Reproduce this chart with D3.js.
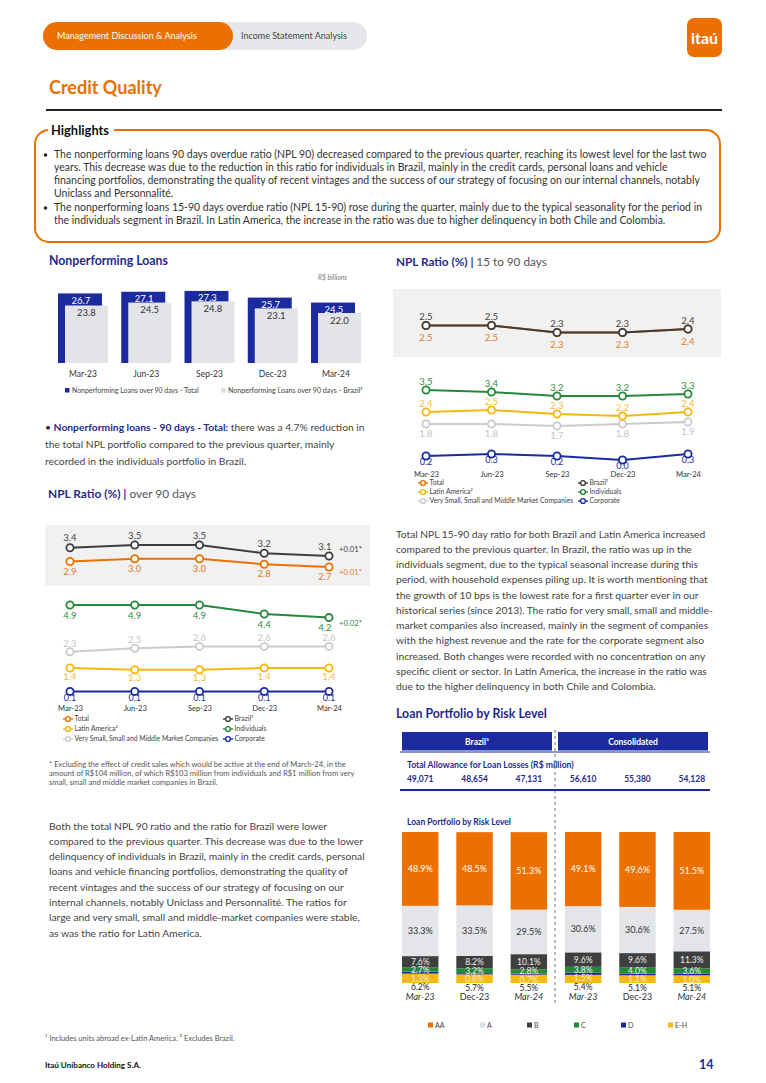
<!DOCTYPE html>
<html><head><meta charset="utf-8">
<script src="https://cdn.jsdelivr.net/npm/d3@7"></script>
<style>
html,body{margin:0;padding:0;background:#fff;}
svg{display:block;}
text{font-family:Lato,"Open Sans",sans-serif;}
</style></head><body>
<svg id="page" width="766" height="1083"></svg>
<script>
// ---------------- DATA ----------------
const quarters = ["Mar-23","Jun-23","Sep-23","Dec-23","Mar-24"];
const nplTotal  = [26.7, 27.1, 27.3, 25.7, 24.5];
const nplBrazil = [23.8, 24.5, 24.8, 23.1, 22.0];
const nplLegend = ["Nonperforming Loans over 90 days - Total","Nonperforming Loans over 90 days - Brazil¹"];

const npl90Total       = [2.9, 3.0, 3.0, 2.8, 2.7];
const npl90Brazil      = [3.4, 3.5, 3.5, 3.2, 3.1];
const npl90Individuals = [4.9, 4.9, 4.9, 4.4, 4.2];
const npl90Vsmm        = [2.3, 2.5, 2.6, 2.6, 2.6];
const npl90Latam       = [1.4, 1.3, 1.3, 1.4, 1.4];
const npl90Corporate   = [0.1, 0.1, 0.1, 0.1, 0.1];
const npl90Notes = {brazil:"+0.01*", total:"+0.01*", individuals:"+0.02*"};

const npl15Total       = [2.5, 2.5, 2.3, 2.3, 2.4];
const npl15Brazil      = [2.5, 2.5, 2.3, 2.3, 2.4];
const npl15Individuals = [3.5, 3.4, 3.2, 3.2, 3.3];
const npl15Latam       = [2.4, 2.5, 2.3, 2.2, 2.4];
const npl15Vsmm        = [1.8, 1.8, 1.7, 1.8, 1.9];
const npl15Corporate   = [0.2, 0.3, 0.2, 0.0, 0.3];

const lineLegendNames = ["Total","Brazil¹","Latin America²","Individuals","Very Small, Small and Middle Market Companies","Corporate"];

const riskGroups  = ["Brazil¹","Consolidated"];
const riskPeriods = ["Mar-23","Dec-23","Mar-24","Mar-23","Dec-23","Mar-24"];
const allowance   = [49071, 48654, 47131, 56610, 55380, 54128];
const riskAA = [48.9, 48.5, 51.3, 49.1, 49.6, 51.5];
const riskA  = [33.3, 33.5, 29.5, 30.6, 30.6, 27.5];
const riskB  = [7.6, 8.2, 10.1, 9.6, 9.6, 11.3];
const riskC  = [2.7, 3.2, 2.8, 3.8, 4.0, 3.6];
const riskD  = [1.3, 0.8, 0.7, 1.5, 1.1, 1.0];
const riskEH = [6.2, 5.7, 5.5, 5.4, 5.1, 5.1];
const riskLegend = ["AA","A","B","C","D","E-H"];

// ---------------- TEXT ----------------
const highlight1 = [
 "The nonperforming loans 90 days overdue ratio (NPL 90) decreased compared to the previous quarter, reaching its lowest level for the last two",
 "years. This decrease was due to the reduction in this ratio for individuals in Brazil, mainly in the credit cards, personal loans and vehicle",
 "financing portfolios, demonstrating the quality of recent vintages and the success of our strategy of focusing on our internal channels, notably",
 "Uniclass and Personnalité."];
const highlight2 = [
 "The nonperforming loans 15-90 days overdue ratio (NPL 15-90) rose during the quarter, mainly due to the typical seasonality for the period in",
 "the individuals segment in Brazil. In Latin America, the increase in the ratio was due to higher delinquency in both Chile and Colombia."];
const noteLines = ["the total NPL portfolio compared to the previous quarter, mainly","recorded in the individuals portfolio in Brazil."];
const rightPara = [
 "Total NPL 15-90 day ratio for both Brazil and Latin America increased",
 "compared to the previous quarter. In Brazil, the ratio was up in the",
 "individuals segment, due to the typical seasonal increase during this",
 "period, with household expenses piling up. It is worth mentioning that",
 "the growth of 10 bps is the lowest rate for a first quarter ever in our",
 "historical series (since 2013). The ratio for very small, small and middle-",
 "market companies also increased, mainly in the segment of companies",
 "with the highest revenue and the rate for the corporate segment also",
 "increased. Both changes were recorded with no concentration on any",
 "specific client or sector. In Latin America, the increase in the ratio was",
 "due to the higher delinquency in both Chile and Colombia."];
const leftPara = [
 "Both the total NPL 90 ratio and the ratio for Brazil were lower",
 "compared to the previous quarter. This decrease was due to the lower",
 "delinquency of individuals in Brazil, mainly in the credit cards, personal",
 "loans and vehicle financing portfolios, demonstrating the quality of",
 "recent vintages and the success of our strategy of focusing on our",
 "internal channels, notably Uniclass and Personnalité. The ratios for",
 "large and very small, small and middle-market companies were stable,",
 "as was the ratio for Latin America."];
const footStar = [
 "* Excluding the effect of credit sales which would be active at the end of March-24, in the",
 "amount of R$104 million, of which R$103 million from individuals and R$1 million from very",
 "small, small and middle market companies in Brazil."];

// ---------------- STYLE ----------------
const ORANGE="#ec7000", BLUE="#1b2a9e", NAVY="#1f2b8c", DARK="#3d3d3d", GREEN="#24893a",
      YELLOW="#f5b70f", LIGHT="#cbcbcb", TXT="#444";

const svg = d3.select('#page');

function fit(t, w){ const c=t.node().getComputedTextLength(); if(c>0) t.attr('font-size', parseFloat(t.attr('font-size'))*w/c); return t; }
function txt(p,x,y,s,o={}){
  const t=p.append('text').attr('x',x).attr('y',y).text(s)
   .attr('font-size',o.fs||9).attr('fill',o.fill||TXT).attr('font-weight',o.fw||400)
   .attr('text-anchor',o.anchor||'start');
  if(o.style) t.attr('font-style',o.style);
  if(o.w) fit(t,o.w);
  return t;
}
function block(lines,x,y0,lh,o){
  const ts=lines.map((l,i)=>txt(svg,x,y0+i*lh,l,{fs:o.fs,fill:o.fill||TXT}));
  if(o.w){ const c=ts[o.ref].node().getComputedTextLength(); const fs=o.fs*o.w/c; ts.forEach(t=>t.attr('font-size',fs)); return fs; }
  return o.fs;
}

// ---------------- HEADER ----------------
svg.append('rect').attr('x',195).attr('y',22).attr('width',172).attr('height',28).attr('rx',14).attr('fill','#e6e7eb');
svg.append('rect').attr('x',43).attr('y',22).attr('width',190).attr('height',28).attr('rx',14).attr('fill',ORANGE);
txt(svg,57,39,"Management Discussion & Analysis",{fs:8.5,fill:'#fff',w:140});
txt(svg,241,39,"Income Statement Analysis",{fs:8.5,fill:'#444',w:106});
svg.append('rect').attr('x',687).attr('y',18).attr('width',35).attr('height',39).attr('rx',7).attr('fill',ORANGE);
txt(svg,704.5,44,"itaú",{fs:14,fill:'#fff',fw:700,anchor:'middle',w:27});
txt(svg,49,94,"Credit Quality",{fs:16,fill:ORANGE,fw:700,w:113});
svg.append('line').attr('x1',46).attr('x2',722).attr('y1',110).attr('y2',110).attr('stroke','#222').attr('stroke-width',2);

// ---------------- HIGHLIGHTS ----------------
svg.append('rect').attr('x',35).attr('y',130).attr('width',685).attr('height',112).attr('rx',14)
  .attr('fill','none').attr('stroke',ORANGE).attr('stroke-width',2);
svg.append('rect').attr('x',48).attr('y',124).attr('width',66).attr('height',12).attr('fill','#fff');
txt(svg,51,135,"Highlights",{fs:11,fill:'#111',fw:700,w:58});
const hfs = block(highlight1,54,158,13,{fs:9,fill:'#333',ref:0,w:653});
highlight2.forEach((l,i)=>txt(svg,54,211+i*13,l,{fs:hfs,fill:'#333'}));
[155,208].forEach(y=>svg.append('circle').attr('cx',45.5).attr('cy',y).attr('r',1.8).attr('fill','#222'));

// ---------------- NONPERFORMING LOANS BARS ----------------
txt(svg,49,265,"Nonperforming Loans",{fs:11,fill:NAVY,fw:700,w:119});
txt(svg,347,280,"R$ billions",{fs:7,fill:'#777',style:'italic',anchor:'end',w:29});
const xN = d3.scaleBand().domain(quarters).range([58,361]).paddingInner(0.21).paddingOuter(0);
const yN = d3.scaleLinear().domain([10,28]).range([363,288]);
const bw = xN.bandwidth();
const gN = svg.append('g');
gN.selectAll('rect.t').data(nplTotal).join('rect').attr('class','t')
  .attr('x',(d,i)=>xN(quarters[i])).attr('width',bw*0.88)
  .attr('y',d=>yN(d)).attr('height',d=>yN(10)-yN(d)).attr('fill',BLUE);
gN.selectAll('rect.b').data(nplBrazil).join('rect').attr('class','b')
  .attr('x',(d,i)=>xN(quarters[i])+bw*0.14).attr('width',bw*0.86)
  .attr('y',d=>yN(d)).attr('height',d=>yN(10)-yN(d)).attr('fill','#e3e4e8');
gN.selectAll('text.t').data(nplTotal).join('text').attr('class','t')
  .attr('x',(d,i)=>xN(quarters[i])+bw*0.46).attr('y',d=>yN(d)+10.5)
  .attr('text-anchor','middle').attr('font-size',9.5).attr('fill','#fff').text(d=>d.toFixed(1));
gN.selectAll('text.b').data(nplBrazil).join('text').attr('class','b')
  .attr('x',(d,i)=>xN(quarters[i])+bw*0.57).attr('y',d=>yN(d)+10.5)
  .attr('text-anchor','middle').attr('font-size',9.5).attr('fill','#333').text(d=>d.toFixed(1));
const axN = gN.append('g').attr('transform','translate(0,369)').call(d3.axisBottom(xN).tickSize(0).tickPadding(2));
axN.select('.domain').remove();
axN.selectAll('text').attr('font-size',8.5).attr('fill','#333').attr('font-family','Lato,"Open Sans",sans-serif');
svg.append('rect').attr('x',65).attr('y',388).attr('width',4.5).attr('height',4.5).attr('fill',BLUE);
txt(svg,72,392.5,nplLegend[0],{fs:6.5,fill:'#444',w:127});
svg.append('rect').attr('x',221).attr('y',388).attr('width',4.5).attr('height',4.5).attr('fill','#dcdde1');
txt(svg,228,392.5,nplLegend[1],{fs:6.5,fill:'#444',w:135});

// note
const n1 = svg.append('text').attr('x',45).attr('y',431).attr('font-size',9.5).attr('fill',TXT);
n1.append('tspan').text('• ').attr('fill','#222');
n1.append('tspan').text('Nonperforming loans - 90 days - Total:').attr('font-weight',700).attr('fill',NAVY);
n1.append('tspan').text('  there was a 4.7% reduction in');
fit(n1,320);
const nfs = parseFloat(n1.attr('font-size'));
noteLines.forEach((l,i)=>txt(svg,45,448+i*16.5,l,{fs:nfs,fill:TXT}));

// ---------------- LINE CHART HELPERS ----------------
function drawSeries(g, xs, series){
  series.forEach(s=>{
    const line=d3.line().x((d,i)=>xs(quarters[i])).y(d=>s.y(d));
    g.append('path').datum(s.values).attr('d',line).attr('fill','none').attr('stroke',s.color).attr('stroke-width',2);
    g.selectAll(null).data(s.values).join('circle')
     .attr('cx',(d,i)=>xs(quarters[i])).attr('cy',d=>s.y(d)).attr('r',3.6)
     .attr('fill','#fff').attr('stroke',s.color).attr('stroke-width',1.8);
  });
  series.forEach(s=>{
    g.selectAll(null).data(s.values).join('text')
     .attr('x',(d,i)=>xs(quarters[i])+(i===4&&s.note?-4:0)).attr('y',d=>s.y(d)+s.dy)
     .attr('text-anchor','middle').attr('font-size',s.fs||9.5).attr('fill',s.lc).text(d=>d.toFixed(1));
    if(s.note) txt(g,xs(quarters[4])+10,s.y(s.values[4])+s.noteDy,s.note,{fs:7,fill:s.lc,w:23});
  });
}
function lineLegend(g, colors, x1, x2, rows, refW){
  const ts=[];
  lineLegendNames.forEach((name,k)=>{
    const col=k%2,row=Math.floor(k/2),mx=col?x2:x1,y=rows[row];
    g.append('line').attr('x1',mx).attr('x2',mx+10).attr('y1',y).attr('y2',y).attr('stroke',colors[k]).attr('stroke-width',1.4);
    g.append('circle').attr('cx',mx+5).attr('cy',y).attr('r',2.4).attr('fill','#fff').attr('stroke',colors[k]).attr('stroke-width',1.4);
    ts.push(txt(g,mx+11.5,y+2.3,name,{fs:6.5,fill:'#444'}));
  });
  const c=ts[4].node().getComputedTextLength(); const fs=6.5*refW/c; ts.forEach(t=>t.attr('font-size',fs));
}
function xAxis(g, xs, y){
  const a=g.append('g').attr('transform',`translate(0,${y})`).call(d3.axisBottom(xs).tickSize(0).tickPadding(2));
  a.select('.domain').remove();
  a.selectAll('text').attr('font-size',7.6).attr('fill','#333').attr('font-family','Lato,"Open Sans",sans-serif');
}
const legendColors=[ORANGE,DARK,YELLOW,GREEN,LIGHT,BLUE];

// ---------------- NPL 15-90 ----------------
const t15 = svg.append('text').attr('x',396).attr('y',266).attr('font-size',11);
t15.append('tspan').text('NPL Ratio (%) | ').attr('font-weight',700).attr('fill',NAVY);
t15.append('tspan').text('15 to 90 days').attr('fill','#555');
fit(t15,151);
svg.append('rect').attr('x',393).attr('y',289).attr('width',328).attr('height',68).attr('fill','#f1f1f1');
const x15 = d3.scalePoint().domain(quarters).range([426,688]);
const y15T = d3.scaleLinear().domain([2.0,2.7]).range([343,318.5]);
const y15B = d3.scaleLinear().domain([0,3.6]).range([460,388]);
const g15 = svg.append('g');
drawSeries(g15,x15,[
  {values:npl15Total,color:ORANGE,lc:'#e27a2a',y:y15T,dy:15.5},
  {values:npl15Brazil,color:DARK,lc:'#444',y:y15T,dy:-5.5},
  {values:npl15Corporate,color:BLUE,lc:BLUE,y:y15B,dy:9,fs:9},
  {values:npl15Vsmm,color:LIGHT,lc:'#c4c4c4',y:y15B,dy:12.5},
  {values:npl15Latam,color:YELLOW,lc:'#f3bd3a',y:y15B,dy:-5.5},
  {values:npl15Individuals,color:GREEN,lc:'#2f8a3f',y:y15B,dy:-5.5}
]);
xAxis(g15,x15,470);
lineLegend(g15,legendColors,418,578,[483,492,501],144);

// ---------------- NPL 90 ----------------
const t90 = svg.append('text').attr('x',48).attr('y',498).attr('font-size',11);
t90.append('tspan').text('NPL Ratio (%) | ').attr('font-weight',700).attr('fill',NAVY);
t90.append('tspan').text('over 90 days').attr('fill','#555');
fit(t90,148);
svg.append('rect').attr('x',45).attr('y',525).attr('width',325).attr('height',61).attr('fill','#f1f1f1');
const x90 = d3.scalePoint().domain(quarters).range([70,329]);
const y90T = d3.scaleLinear().domain([2.5,3.6]).range([572.5,542.25]);
const y90B = d3.scaleLinear().domain([0,5]).range([693.2,603.2]);
const g90 = svg.append('g');
drawSeries(g90,x90,[
  {values:npl90Total,color:ORANGE,lc:'#e27a2a',y:y90T,dy:13,note:npl90Notes.total,noteDy:8},
  {values:npl90Brazil,color:DARK,lc:'#444',y:y90T,dy:-6.5,note:npl90Notes.brazil,noteDy:-4},
  {values:npl90Corporate,color:BLUE,lc:BLUE,y:y90B,dy:9.5,fs:9},
  {values:npl90Latam,color:YELLOW,lc:'#f3bd3a',y:y90B,dy:11.5},
  {values:npl90Vsmm,color:LIGHT,lc:'#c4c4c4',y:y90B,dy:-5},
  {values:npl90Individuals,color:GREEN,lc:'#2f8a3f',y:y90B,dy:13.5,note:npl90Notes.individuals,noteDy:8.5}
]);
xAxis(g90,x90,704);
lineLegend(g90,legendColors,63,223,[719,729,739],144);

// ---------------- TEXT BLOCKS ----------------
block(footStar,49,767,9,{fs:6.5,fill:'#555',ref:1,w:306});
block(leftPara,49,829.5,15.3,{fs:10,fill:TXT,ref:2,w:316});
block(rightPara,396,537.5,15.25,{fs:10,fill:TXT,ref:5,w:317});

// ---------------- LOAN PORTFOLIO BY RISK LEVEL ----------------
txt(svg,396,718,"Loan Portfolio by Risk Level",{fs:10.5,fill:NAVY,fw:700,w:151});
const xR = d3.scaleBand().domain(d3.range(6)).range([402,710]).paddingInner(0.329).paddingOuter(0);
const yR = d3.scaleLinear().domain([0,100]).range([983,832]);
const rb = xR.bandwidth();
[[402,552],[558,708]].forEach((r,i)=>{
  svg.append('rect').attr('x',r[0]).attr('y',732).attr('width',r[1]-r[0]).attr('height',18.5).attr('fill',BLUE);
  txt(svg,(r[0]+r[1])/2,744.5,riskGroups[i],{fs:8.5,fill:'#fff',fw:700,anchor:'middle'});
});
svg.append('line').attr('x1',400).attr('x2',710).attr('y1',752).attr('y2',752).attr('stroke',BLUE).attr('stroke-width',1);
svg.append('line').attr('x1',555).attr('x2',555).attr('y1',730).attr('y2',1006).attr('stroke','#9a9a9a').attr('stroke-width',1.3).attr('stroke-dasharray','3,3');
txt(svg,407,768,"Total Allowance for Loan Losses (R$ million)",{fs:8,fill:NAVY,fw:700,w:167});
svg.selectAll('text.alw').data(allowance).join('text').attr('class','alw')
  .attr('x',(d,i)=>xR(i)+rb/2).attr('y',782).attr('text-anchor','middle')
  .attr('font-size',8.5).attr('font-weight',700).attr('fill',NAVY).text(d=>d3.format(',')(d));
svg.append('line').attr('x1',400).attr('x2',710).attr('y1',790).attr('y2',790).attr('stroke',BLUE).attr('stroke-width',2);
txt(svg,407,825,"Loan Portfolio by Risk Level",{fs:7.5,fill:NAVY,fw:700,w:104});

const riskKeys=["EH","D","C","B","A","AA"];
const riskColors={AA:ORANGE,A:"#e4e5e9",B:"#3f3f3f",C:"#22893a",D:BLUE,EH:"#f7b80f"};
const riskTable=riskPeriods.map((p,i)=>({i,AA:riskAA[i],A:riskA[i],B:riskB[i],C:riskC[i],D:riskD[i],EH:riskEH[i]}));
const stacked=d3.stack().keys(riskKeys)(riskTable);
const gR=svg.append('g');
stacked.forEach(layer=>{
  gR.selectAll(null).data(layer).join('rect')
   .attr('x',d=>xR(d.data.i)).attr('width',rb)
   .attr('y',d=>yR(d[1])).attr('height',d=>yR(d[0])-yR(d[1]))
   .attr('fill',riskColors[layer.key]);
});
const labelColor={AA:'#fff',A:'#333',B:'#eee',C:'#f2f2f2',D:'#fbeec4',EH:'#222'};
riskTable.forEach((row,i)=>{
  const cen={};
  stacked.forEach(layer=>{ const d=layer[i]; cen[layer.key]=(yR(d[0])+yR(d[1]))/2; });
  let prev=null;
  ["AA","A","B","C","D","EH"].forEach(k=>{
    let y=cen[k];
    if(["C","D","EH"].includes(k)) y=Math.max(y,prev+8.5);
    prev=y;
    gR.append('text').attr('x',xR(i)+rb/2).attr('y',y).attr('dy','0.35em').attr('text-anchor','middle')
      .attr('font-size',(k==='AA'||k==='A')?9:8.5).attr('fill',labelColor[k])
      .text(row[k].toFixed(1)+'%');
  });
});
const axR=gR.append('g').attr('transform','translate(0,993)').call(d3.axisBottom(xR).tickSize(0).tickPadding(1).tickFormat(i=>riskPeriods[i]));
axR.select('.domain').remove();
axR.selectAll('text').attr('font-size',9).attr('fill','#333').attr('font-family','Lato,"Open Sans",sans-serif')
  .attr('font-style',i=>riskPeriods[i].startsWith('Mar')?'italic':'normal');
const legX=[428,480,527,574,621,668];
riskLegend.forEach((n,k)=>{
  const key=riskKeys[5-k];
  svg.append('rect').attr('x',legX[k]).attr('y',1022.5).attr('width',5).attr('height',5).attr('fill',key==='A'?'#dcdde1':riskColors[key]);
  txt(svg,legX[k]+7,1027.5,n,{fs:7,fill:'#444'});
});

// ---------------- FOOTER ----------------
txt(svg,45,1041,"¹ Includes units abroad ex-Latin America. ² Excludes Brazil.",{fs:6.5,fill:'#555',w:190});
txt(svg,45,1068,"Itaú Unibanco Holding S.A.",{fs:7.5,fill:'#111',fw:700,w:96});
txt(svg,699,1069,"14",{fs:12.5,fill:NAVY,fw:700});
</script>
</body></html>
